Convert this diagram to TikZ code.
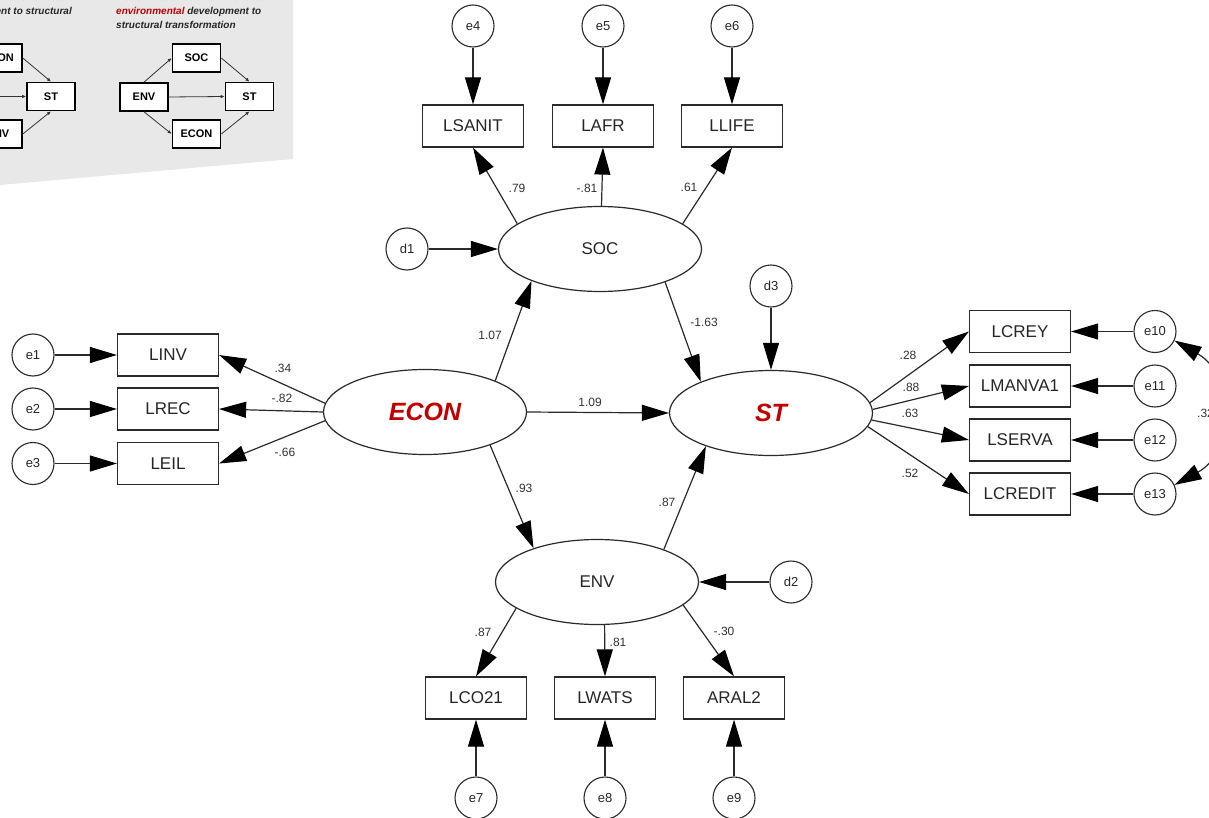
\documentclass[tikz,border=0pt]{standalone}
\usepackage{fontspec}
\setmainfont{Liberation Sans}
\usetikzlibrary{arrows.meta,shapes.geometric}
\definecolor{lc}{HTML}{2A2A2A}
\definecolor{hl}{HTML}{C00000}
\definecolor{panelgrey}{HTML}{E8E8E8}

\begin{document}
\begin{tikzpicture}[x=1pt,y=-1pt,
  obs/.style={draw=lc, line width=1.2pt, fill=white, minimum width=101pt,
    minimum height=42pt, inner sep=0pt, font=\fontsize{17}{20}\selectfont, text=black!85},
  lat/.style={draw=lc, line width=1.2pt, fill=white, ellipse, minimum width=203pt,
    minimum height=85pt, inner sep=0pt, font=\fontsize{17}{20}\selectfont, text=black!85},
  keylat/.style={lat, font=\fontsize{25}{28}\selectfont\bfseries\itshape, text=hl},
  err/.style={draw=lc, line width=1.1pt, fill=white, circle, minimum size=42pt,
    inner sep=0pt, font=\fontsize{13}{15}\selectfont, text=black!85},
  reg/.style={draw=lc, line width=1.2pt, -{Triangle[length=27pt,width=16pt,color=black]}},
  cov/.style={draw=lc, line width=1.2pt,
    {Triangle[length=27pt,width=16pt,color=black]}-{Triangle[length=27pt,width=16pt,color=black]}},
  coef/.style={font=\fontsize{12}{14}\selectfont, inner sep=0pt, text=black!80},
  mini/.style={draw=black, line width=1.6pt, fill=white, minimum width=48pt,
    minimum height=28pt, inner sep=0pt, font=\fontsize{11}{13}\selectfont\bfseries},
  miniarr/.style={draw=black!80, line width=0.8pt, -{Latex[length=4pt,width=3.5pt]}},
  ptext/.style={font=\fontsize{10}{12}\selectfont\bfseries\itshape, text=black!85, inner sep=0pt}
]
\useasboundingbox (0,0) rectangle (1209,818);
\fill[white] (0,0) rectangle (1209,818);

% ---------- inset panel with the two alternative models ----------
\fill[panelgrey] (0,0) -- (293,0) -- (293,159) -- (0,185) -- cycle;
\node[ptext, anchor=base east] at (78,1) {Model in total structural effects of};
\node[ptext, anchor=base east] at (72,15) {\textcolor{hl}{social} development to structural};
\node[ptext, anchor=base west] at (116,1) {model in total structural effects of};
\node[ptext, anchor=base west] at (116,15) {\textcolor{hl}{environmental} development to};
\node[ptext, anchor=base west] at (116,29) {structural transformation};

\node[mini] (lecon) at (-2,58) {ECON};
\node[mini] (lst) at (51,96.5) {ST};
\node[mini] (lenv) at (-2,134) {ENV};
\coordinate (lsrc) at (-30,96.5);
\draw[miniarr] (lsrc) -- (lst.west);
\draw[miniarr] (lecon.east) -- (lst.north);
\draw[miniarr] (lenv.east) -- (lst.south);

\node[mini] (penv) at (144,97) {ENV};
\node[mini] (psoc) at (196.5,58) {SOC};
\node[mini] (pst) at (249.5,96.5) {ST};
\node[mini] (pecon) at (196.5,134) {ECON};
\draw[miniarr] (penv.north) -- (psoc.west);
\draw[miniarr] (penv.south) -- (pecon.west);
\draw[miniarr] (penv.east) -- (pst.west);
\draw[miniarr] (psoc.east) -- (pst.north);
\draw[miniarr] (pecon.east) -- (pst.south);

% ---------- latent variables ----------
\node[lat] (soc) at (600,249) {SOC};
\node[keylat] (econ) at (425,412) {ECON};
\node[keylat] (st) at (771,413) {ST};
\node[lat] (env) at (597,582) {ENV};

% ---------- indicators ----------
\node[obs] (lsanit) at (473,126) {LSANIT};
\node[obs] (lafr) at (603,126) {LAFR};
\node[obs] (llife) at (732,126) {LLIFE};

\node[obs] (linv) at (168,355) {LINV};
\node[obs] (lrec) at (168,409) {LREC};
\node[obs] (leil) at (168,463.5) {LEIL};

\node[obs] (lcrey) at (1020,331.5) {LCREY};
\node[obs] (lmanva) at (1020,386) {LMANVA1};
\node[obs] (lserva) at (1020,440) {LSERVA};
\node[obs] (lcredit) at (1020,494) {LCREDIT};

\node[obs] (lco) at (476,698) {LCO21};
\node[obs] (lwats) at (605,698) {LWATS};
\node[obs] (aral) at (734,698) {ARAL2};

% ---------- error and disturbance terms ----------
\node[err] (e4) at (473,26) {e4};
\node[err] (e5) at (603,26) {e5};
\node[err] (e6) at (732,26) {e6};
\node[err] (e1) at (33,355) {e1};
\node[err] (e2) at (33,409) {e2};
\node[err] (e3) at (33,463.5) {e3};
\node[err] (e10) at (1155,331.5) {e10};
\node[err] (e11) at (1155,386) {e11};
\node[err] (e12) at (1155,440) {e12};
\node[err] (e13) at (1155,494) {e13};
\node[err] (e7) at (476,798) {e7};
\node[err] (e8) at (605,798) {e8};
\node[err] (e9) at (734,798) {e9};
\node[err] (d1) at (407,249) {d1};
\node[err] (d2) at (791,582) {d2};
\node[err] (d3) at (771,286) {d3};

% ---------- error paths ----------
\draw[reg] (e4) -- (lsanit);
\draw[reg] (e5) -- (lafr);
\draw[reg] (e6) -- (llife);
\draw[reg] (e1) -- (linv);
\draw[reg] (e2) -- (lrec);
\draw[reg] (e3) -- (leil);
\draw[reg] (e10) -- (lcrey);
\draw[reg] (e11) -- (lmanva);
\draw[reg] (e12) -- (lserva);
\draw[reg] (e13) -- (lcredit);
\draw[reg] (e7) -- (lco);
\draw[reg] (e8) -- (lwats);
\draw[reg] (e9) -- (aral);
\draw[reg] (d1) -- (soc.west);
\draw[reg] (d2) -- (env.east);
\draw[reg] (d3) -- (st.north);
\draw[cov] (e10.-25) .. controls (1235,375) and (1235,452) .. (e13.25);

% ---------- loadings ----------
\draw[reg] (soc.163) -- (lsanit.south);
\draw[reg] (soc.88) -- (lafr.south);
\draw[reg] (soc.17) -- (llife.south);
\draw[reg] (econ.175) -- (linv.east);
\draw[reg] (econ.180) -- (lrec.east);
\draw[reg] (econ.185) -- (leil.east);
\draw[reg] (st.6) -- (lcrey.west);
\draw[reg] (st.2) -- (lmanva.west);
\draw[reg] (st.-4) -- (lserva.west);
\draw[reg] (st.-8) -- (lcredit.west);
\draw[reg] (env.198) -- (lco.north);
\draw[reg] (env.280) -- (lwats.north);
\draw[reg] (env.-15) -- (aral.north);

% ---------- structural paths ----------
\draw[reg] (econ.24) -- (soc.205);
\draw[reg] (econ.0) -- (st.180);
\draw[reg] (econ.-27) -- (env.152);
\draw[reg] (soc.-27) -- (st.156);
\draw[reg] (env.26) -- (st.207);

% ---------- coefficients ----------
\node[coef] at (517,188) {.79};
\node[coef] at (587,188) {-.81};
\node[coef] at (689,187) {.61};
\node[coef] at (490,335) {1.07};
\node[coef] at (704,322) {-1.63};
\node[coef] at (590,402) {1.09};
\node[coef] at (524,488) {.93};
\node[coef] at (667,502) {.87};
\node[coef] at (483,632) {.87};
\node[coef] at (618,642) {.81};
\node[coef] at (724,631) {-.30};
\node[coef] at (283,368) {.34};
\node[coef] at (282,398) {-.82};
\node[coef] at (285,452) {-.66};
\node[coef] at (908,355) {.28};
\node[coef] at (911,387) {.88};
\node[coef] at (910,413) {.63};
\node[coef] at (910,473) {.52};
\node[coef, anchor=west] at (1197,413) {.32};
\end{tikzpicture}
\end{document}
